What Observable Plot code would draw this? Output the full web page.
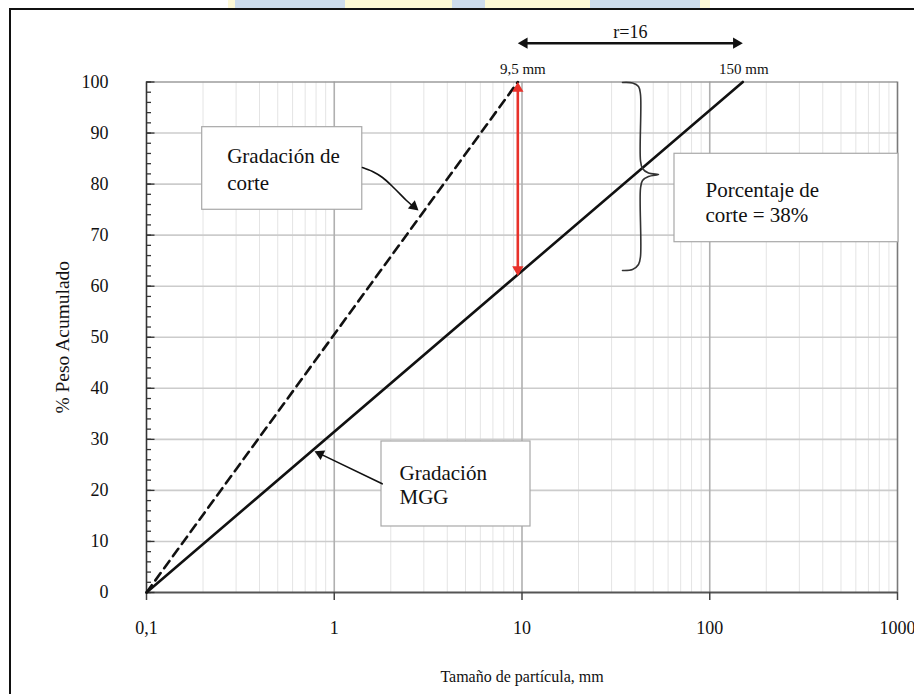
<!DOCTYPE html>
<html><head><meta charset="utf-8">
<script src="https://cdn.jsdelivr.net/npm/d3@7"></script>
<script src="https://cdn.jsdelivr.net/npm/@observablehq/plot@0.6"></script>
<style>
html,body{margin:0;padding:0;background:#fff;width:914px;height:694px;overflow:hidden;}
#wrap{position:relative;width:914px;height:694px;}
#wrap svg{position:absolute;left:0;top:0;}
.wm{position:absolute;top:0;height:8px;}
#border{position:absolute;left:9px;top:8px;width:930px;height:720px;border-left:2px solid #111;border-top:2px solid #111;box-sizing:border-box;pointer-events:none;}
</style></head><body><div id="wrap"></div>
<script>
// ---------- data ----------
const xTicks = [0.1, 1, 10, 100, 1000];
const xTickLabels = ["0,1", "1", "10", "100", "1000"];
const yTicks = [0, 10, 20, 30, 40, 50, 60, 70, 80, 90, 100];

// Gradación MGG (línea continua): tamaño (mm) y % peso acumulado
const mggSize = [0.1, 150];
const mggPassing = [0, 100];
// Gradación de corte (línea discontinua)
const corteSize = [0.1, 9.5];
const cortePassing = [0, 100];

const cutSize = 9.5;     // mm
const maxSize = 150;     // mm
const mggAtCut = 62;     // % de la MGG bajo 9,5 mm (100 - 38)

const ratioLabel = "r=16";
const sizeLabels = ["9,5 mm", "150 mm"];
const boxCorteLines = ["Gradación de", "corte"];
const boxMggLines = ["Gradación", "MGG"];
const boxPctLines = ["Porcentaje de", "corte = 38%"];
const xTitle = "Tamaño de partícula, mm";
const yTitle = "% Peso Acumulado";

// ---------- layout ----------
const W = 914, H = 694, mL = 146, mR = 17, mT = 81.5, mB = 102;
const decadePx = (W - mL - mR) / 4;
const tickX = len => 0.1 * Math.pow(10, len / decadePx);   // x value lying len px right of the y axis

// annotation layout (data coordinates)
const boxCorte = {x1: 0.198, x2: 1.41, y1: 74.97, y2: 91.15, tx: 0.269, ty: [84.1, 78.94]};
const boxMgg = {x1: 1.785, x2: 11.1, y1: 12.93, y2: 29.58, tx: 2.226, ty: [22.13, 17.43]};
const boxPct = {x1: 64.9, x2: 1012, y1: 68.62, y2: 85.94, tx: 94.9, ty: [77.43, 72.54]};
const leaderCorteX = [1.414, 1.599, 1.807, 2.094, 2.425, 2.676];
const leaderCorteY = [83.25, 82.47, 81.29, 79.14, 76.79, 75.42];
const leaderCorteTip = {x: 2.81, y: 74.83};
const leaderMggX = [1.80, 0.841];
const leaderMggY = [21.29, 27.15];
const leaderMggTip = {x: 0.785, y: 27.68};
const braceX = [34.3, 38.78, 41.74, 42.77, 42.77, 43.83, 47.18, 53.33, 47.18, 43.83, 42.77, 42.77, 41.74, 38.78, 34.3];
const braceY = [99.9, 99.8, 99.12, 97.55, 84.62, 83.06, 82.17, 81.88, 81.49, 80.71, 79.14, 65.82, 64.25, 63.27, 63.08];
const topArrowY = 107.6;
const ratioLabelY = 108.7;
const sizeLabelY = 101.47;

// ---------- helpers ----------
const zip = (xs, ys) => xs.map((x, i) => ({x, y: ys[i]}));
const decades = [0.1, 1, 10, 100];
const minorX = decades.flatMap(d => [2,3,4,5,6,7,8,9].map(k => +(d * k).toPrecision(3)));
const minorY = d3.range(0, 101, 2);
const hGrid = yTicks.filter(v => v > 0 && v < 100);
const serif = "'Liberation Serif', 'Times New Roman', serif";
const red = "#e8312a";
const ink = "#111";

function boxMarks(b, lines, fs) {
  return [
    Plot.rect([b], {x1: "x1", x2: "x2", y1: "y1", y2: "y2", fill: "white", stroke: "#a8a8a8", strokeWidth: 1.2}),
    Plot.text(lines.map((t, i) => ({t, y: b.ty[i]})), {x: b.tx, y: "y", text: "t", textAnchor: "start", lineAnchor: "bottom", fontSize: fs, fontFamily: serif, fill: ink})
  ];
}

const plot = Plot.plot({
  width: W, height: H,
  marginLeft: mL, marginRight: mR, marginTop: mT, marginBottom: mB,
  style: {fontFamily: serif, fontSize: "18px", color: ink, background: "white"},
  x: {type: "log", domain: [0.1, 1000]},
  y: {domain: [0, 100]},
  marks: [
    // grid
    Plot.ruleX(minorX, {stroke: "#e4e4e4", strokeWidth: 1}),
    Plot.ruleY(hGrid, {stroke: "#cccccc", strokeWidth: 1.6}),
    Plot.ruleX([1, 10, 100], {stroke: "#b0b0b0", strokeWidth: 1.6}),
    Plot.ruleY([100], {stroke: "#9c9c9c", strokeWidth: 1.6}),
    Plot.ruleX([1000], {stroke: "#7a7a7a", strokeWidth: 1.6}),
    Plot.ruleX([0.1], {stroke: "#333", strokeWidth: 1.6}),
    Plot.ruleY([0], {stroke: "#555", strokeWidth: 2.2}),
    // axes
    Plot.axisX({ticks: xTicks, tickSize: 8, tickPadding: 21, tickFormat: d => xTickLabels[xTicks.indexOf(d)], label: null, stroke: "#444", strokeWidth: 1.5, fontSize: 18, fontFamily: serif, fill: ink}),
    Plot.axisY({ticks: yTicks, tickSize: 0, tickPadding: 38, label: null, fontSize: 18, fontFamily: serif, fill: ink}),
    Plot.link(minorY, {x1: 0.1, x2: tickX(4.5), y1: d => d, y2: d => d, stroke: "#333", strokeWidth: 1.3}),
    Plot.link(yTicks, {x1: 0.1, x2: tickX(8), y1: d => d, y2: d => d, stroke: "#333", strokeWidth: 1.3}),
    Plot.text([yTitle], {frameAnchor: "left", dx: -84, rotate: -90, textAnchor: "middle", lineAnchor: "middle", fontSize: 19.5, fontFamily: serif, fill: ink}),
    Plot.text([xTitle], {frameAnchor: "bottom", dy: 84, textAnchor: "middle", lineAnchor: "middle", fontSize: 16, fontFamily: serif, fill: ink}),
    // boxes
    ...boxMarks(boxCorte, boxCorteLines, 21),
    ...boxMarks(boxMgg, boxMggLines, 21),
    ...boxMarks(boxPct, boxPctLines, 21),
    // gradations
    Plot.line(zip(corteSize, cortePassing), {x: "x", y: "y", stroke: ink, strokeWidth: 2.6, strokeDasharray: "9,6"}),
    Plot.line(zip(mggSize, mggPassing), {x: "x", y: "y", stroke: ink, strokeWidth: 2.6}),
    // red double arrow (porcentaje de corte)
    Plot.arrow([{x: cutSize, y1: mggAtCut, y2: 100}], {x: "x", y1: "y1", y2: "y2", stroke: red, strokeWidth: 2.6, headLength: 0, insetStart: 6, insetEnd: 6}),
    Plot.dot([{x: cutSize, y: 100}], {x: "x", y: "y", symbol: "triangle", r: 4.2, fill: red, stroke: "none", rotate: 0, dy: 6.5}),
    Plot.dot([{x: cutSize, y: mggAtCut}], {x: "x", y: "y", symbol: "triangle", r: 4.2, fill: red, stroke: "none", rotate: 180, dy: -6.5}),
    // brace
    Plot.line(zip(braceX, braceY), {x: "x", y: "y", curve: "catmull-rom", stroke: "#333", strokeWidth: 1.6}),
    // leaders
    Plot.line(zip(leaderCorteX, leaderCorteY), {x: "x", y: "y", curve: "catmull-rom", stroke: ink, strokeWidth: 1.6}),
    Plot.dot([leaderCorteTip], {x: "x", y: "y", symbol: "triangle", r: 4, fill: ink, stroke: "none", rotate: 130, dx: -4.75, dy: -4.0}),
    Plot.line(zip(leaderMggX, leaderMggY), {x: "x", y: "y", stroke: ink, strokeWidth: 1.6}),
    Plot.dot([leaderMggTip], {x: "x", y: "y", symbol: "triangle", r: 4, fill: ink, stroke: "none", rotate: -64.3, dx: 5.6, dy: 2.7}),
    // top ratio arrow
    Plot.arrow([{x1: cutSize, x2: maxSize, y: topArrowY}], {x1: "x1", x2: "x2", y: "y", stroke: ink, strokeWidth: 2.4, headLength: 0, insetStart: 6, insetEnd: 6}),
    Plot.dot([{x: cutSize, y: topArrowY}], {x: "x", y: "y", symbol: "triangle", r: 4.2, fill: ink, stroke: "none", rotate: -90, dx: 6.5}),
    Plot.dot([{x: maxSize, y: topArrowY}], {x: "x", y: "y", symbol: "triangle", r: 4.2, fill: ink, stroke: "none", rotate: 90, dx: -6.5}),
    Plot.text([ratioLabel], {x: Math.sqrt(cutSize * maxSize), y: ratioLabelY, lineAnchor: "bottom", fontSize: 18, fontFamily: serif, fill: ink}),
    Plot.text([{t: sizeLabels[0], x: cutSize}], {x: "x", y: sizeLabelY, text: "t", dx: 5, lineAnchor: "bottom", fontSize: 15, fontFamily: serif, fill: ink}),
    Plot.text([{t: sizeLabels[1], x: maxSize}], {x: "x", y: sizeLabelY, text: "t", dx: 1, lineAnchor: "bottom", fontSize: 15, fontFamily: serif, fill: ink})
  ]
});

const wrap = document.getElementById("wrap");
wrap.appendChild(plot);
const wm = [[228,235,"#fdf8d6"],[235,345,"#cddcec"],[345,452,"#fdf9d4"],[452,485,"#cddcec"],[485,590,"#fdf9d4"],[590,700,"#cddcec"],[700,710,"#fdf9d4"]];
for (const [a, b, c] of wm) {
  const d = document.createElement("div");
  d.className = "wm"; d.style.left = a + "px"; d.style.width = (b - a) + "px"; d.style.background = c;
  wrap.appendChild(d);
}
const border = document.createElement("div");
border.id = "border";
wrap.appendChild(border);
</script>
</body></html>
